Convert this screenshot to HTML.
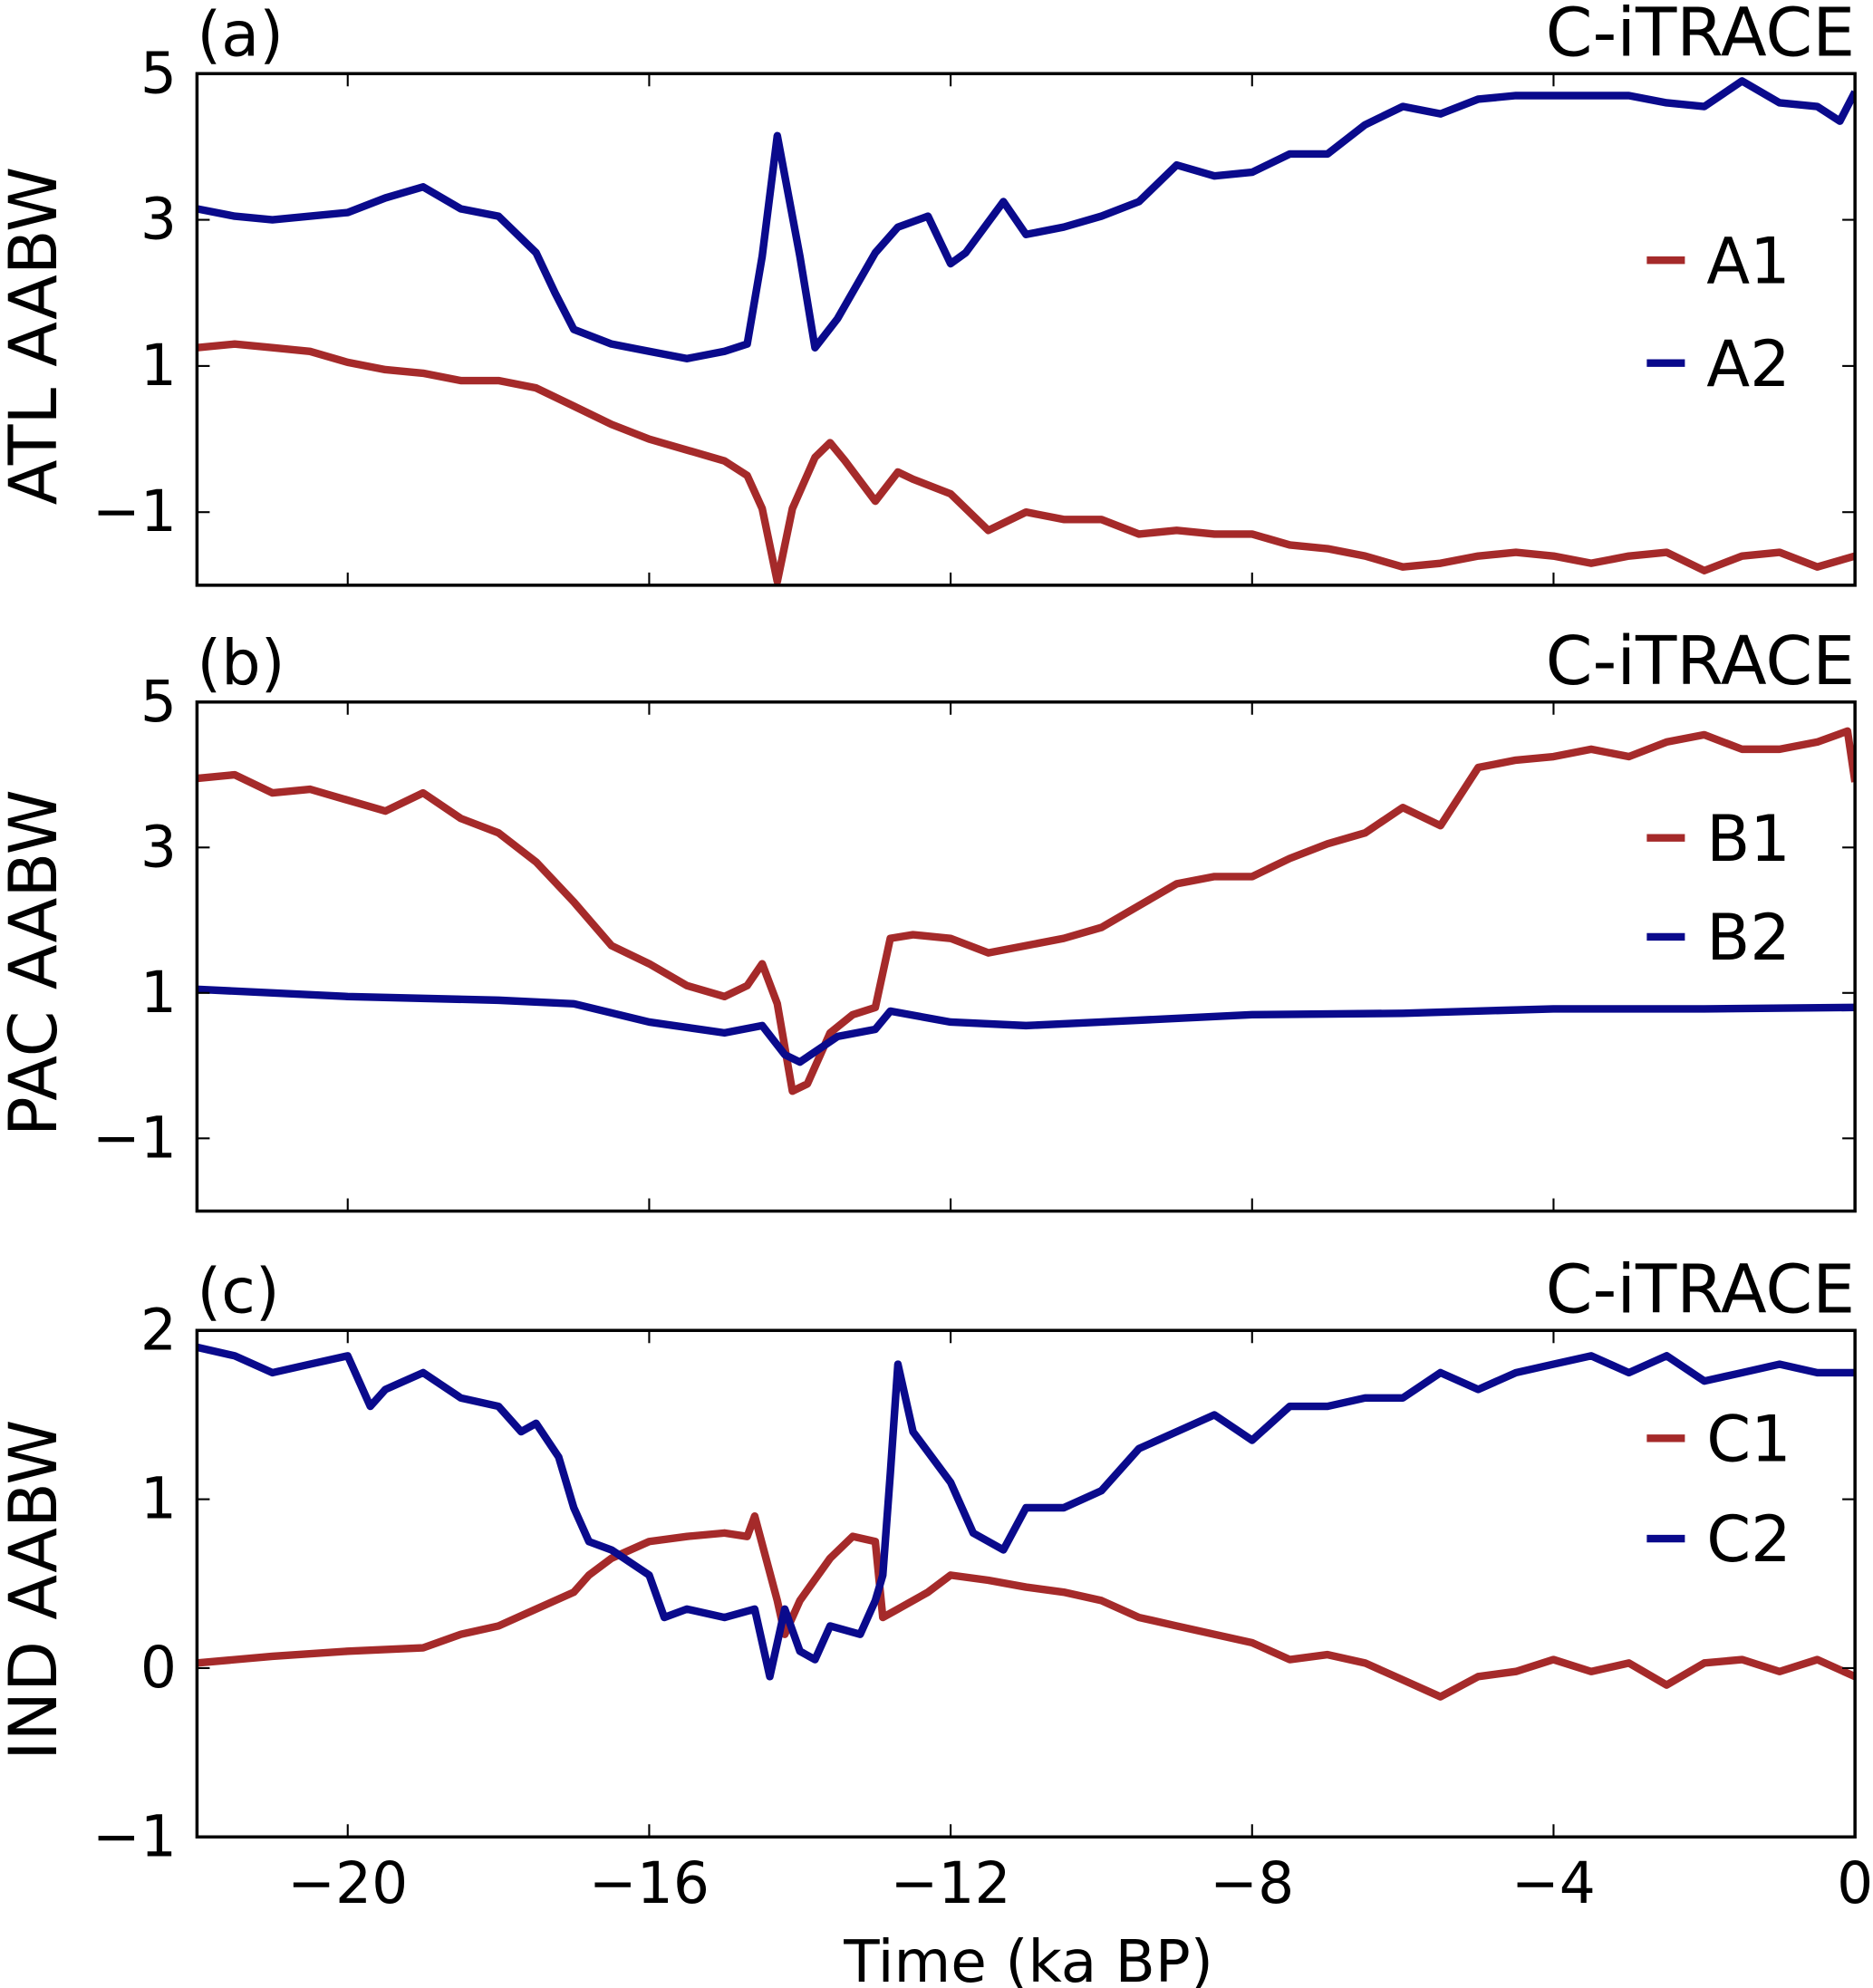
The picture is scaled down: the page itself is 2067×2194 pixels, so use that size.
<!DOCTYPE html>
<html><head><meta charset="utf-8"><style>
html,body{margin:0;padding:0;background:#fff}
svg{display:block}
text{font-family:"DejaVu Sans","Liberation Sans",sans-serif;fill:#000}
</style></head><body>
<svg id="chart" width="2067" height="2194" viewBox="0 0 1475 1566" xmlns="http://www.w3.org/2000/svg"></svg>
<script>
// ---- data ----
const tA2=[-22,-21.5,-21,-20.5,-20,-19.5,-19,-18.5,-18,-17.5,-17.25,-17,-16.5,-16,-15.5,-15,-14.7,-14.5,-14.3,-14.0,-13.8,-13.5,-13,-12.7,-12.3,-12,-11.8,-11.3,-11.0,-10.5,-10,-9.5,-9,-8.5,-8,-7.5,-7,-6.5,-6,-5.5,-5,-4.5,-4,-3.5,-3,-2.5,-2,-1.5,-1,-0.5,-0.2,0];
const vA2=[3.15,3.05,3.0,3.05,3.1,3.3,3.45,3.15,3.05,2.55,2.0,1.5,1.3,1.2,1.1,1.2,1.3,2.5,4.15,2.5,1.25,1.65,2.55,2.9,3.05,2.4,2.55,3.25,2.8,2.9,3.05,3.25,3.75,3.6,3.65,3.9,3.9,4.3,4.55,4.45,4.65,4.7,4.7,4.7,4.7,4.6,4.55,4.9,4.6,4.55,4.35,4.75];
const tA1=[-22,-21.5,-21,-20.5,-20,-19.5,-19,-18.5,-18,-17.5,-17,-16.5,-16,-15.5,-15,-14.7,-14.5,-14.3,-14.1,-13.8,-13.6,-13.4,-13,-12.7,-12.5,-12,-11.5,-11,-10.5,-10,-9.5,-9,-8.5,-8,-7.5,-7,-6.5,-6,-5.5,-5,-4.5,-4,-3.5,-3,-2.5,-2,-1.5,-1,-0.5,0];
const vA1=[1.25,1.3,1.25,1.2,1.05,0.95,0.9,0.8,0.8,0.7,0.45,0.2,0.0,-0.15,-0.3,-0.5,-0.95,-1.95,-0.95,-0.25,-0.05,-0.3,-0.85,-0.45,-0.55,-0.75,-1.25,-1.0,-1.1,-1.1,-1.3,-1.25,-1.3,-1.3,-1.45,-1.5,-1.6,-1.75,-1.7,-1.6,-1.55,-1.6,-1.7,-1.6,-1.55,-1.8,-1.6,-1.55,-1.75,-1.6];
const tB1=[-22,-21.5,-21,-20.5,-20,-19.5,-19,-18.5,-18,-17.5,-17,-16.5,-16,-15.5,-15,-14.7,-14.5,-14.3,-14.1,-13.9,-13.6,-13.3,-13,-12.8,-12.5,-12,-11.5,-11,-10.5,-10,-9.5,-9,-8.5,-8,-7.5,-7,-6.5,-6,-5.5,-5,-4.5,-4,-3.5,-3,-2.5,-2,-1.5,-1,-0.5,-0.1,0];
const vB1=[3.95,4.0,3.75,3.8,3.65,3.5,3.75,3.4,3.2,2.8,2.25,1.65,1.4,1.1,0.95,1.1,1.4,0.85,-0.35,-0.25,0.45,0.7,0.8,1.75,1.8,1.75,1.55,1.65,1.75,1.9,2.2,2.5,2.6,2.6,2.85,3.05,3.2,3.55,3.3,4.1,4.2,4.25,4.35,4.25,4.45,4.55,4.35,4.35,4.45,4.6,3.9];
const tB2=[-22,-20,-18,-17,-16,-15,-14.5,-14.2,-14,-13.5,-13,-12.8,-12,-11,-10,-8,-6,-4,-2,0];
const vB2=[1.05,0.95,0.9,0.85,0.6,0.45,0.55,0.15,0.05,0.4,0.5,0.75,0.6,0.55,0.6,0.7,0.72,0.78,0.78,0.8];
const tC2=[-22,-21.5,-21,-20.5,-20,-19.7,-19.5,-19,-18.5,-18,-17.7,-17.5,-17.2,-17,-16.8,-16.5,-16,-15.8,-15.5,-15,-14.6,-14.4,-14.2,-14,-13.8,-13.6,-13.2,-13,-12.9,-12.8,-12.7,-12.5,-12,-11.7,-11.3,-11,-10.5,-10,-9.5,-9,-8.5,-8,-7.5,-7,-6.5,-6,-5.5,-5,-4.5,-4,-3.5,-3,-2.5,-2,-1.5,-1,-0.5,0];
const vC2=[1.9,1.85,1.75,1.8,1.85,1.55,1.65,1.75,1.6,1.55,1.4,1.45,1.25,0.95,0.75,0.7,0.55,0.3,0.35,0.3,0.35,-0.05,0.35,0.1,0.05,0.25,0.2,0.4,0.55,1.15,1.8,1.4,1.1,0.8,0.7,0.95,0.95,1.05,1.3,1.4,1.5,1.35,1.55,1.55,1.6,1.6,1.75,1.65,1.75,1.8,1.85,1.75,1.85,1.7,1.75,1.8,1.75,1.75];
const tC1=[-22,-21,-20,-19,-18.5,-18,-17.5,-17,-16.8,-16.5,-16,-15.5,-15,-14.7,-14.6,-14.3,-14.2,-14,-13.6,-13.3,-13,-12.9,-12.7,-12.3,-12,-11.5,-11,-10.5,-10,-9.5,-9,-8.5,-8,-7.5,-7,-6.5,-6,-5.5,-5,-4.5,-4,-3.5,-3,-2.5,-2,-1.5,-1,-0.5,0];
const vC1=[0.03,0.07,0.1,0.12,0.2,0.25,0.35,0.45,0.55,0.65,0.75,0.78,0.8,0.78,0.9,0.4,0.2,0.4,0.65,0.78,0.75,0.3,0.35,0.45,0.55,0.52,0.48,0.45,0.4,0.3,0.25,0.2,0.15,0.05,0.08,0.03,-0.07,-0.17,-0.05,-0.02,0.05,-0.02,0.03,-0.1,0.03,0.05,-0.02,0.05,-0.05];
const xTicks=[-20,-16,-12,-8,-4,0];
const yTicksAB=[5,3,1,-1];
const yTicksC=[2,1,0,-1];
const RED="#a52a2a", BLUE="#0a0a8c";
// ---- layout ----
const svg=document.getElementById('chart');
const NS="http://www.w3.org/2000/svg";
const X0=155,X1=1461;
const xs=t=>X0+(t+22)/22*(X1-X0);
function el(tag,attrs,parent){const e=document.createElementNS(NS,tag);for(const k in attrs)e.setAttribute(k,attrs[k]);(parent||svg).appendChild(e);return e;}
function fmt(v){return v<0?'\u2212'+Math.abs(v):String(v);}
const panels=[
 {id:'a',top:58,bot:461,ymin:-2,ymax:5,yt:yTicksAB,ylab:'ATL AABW',series:[[tA1,vA1,RED,'A1'],[tA2,vA2,BLUE,'A2']],leg:[205,286]},
 {id:'b',top:553,bot:954,ymin:-2,ymax:5,yt:yTicksAB,ylab:'PAC AABW',series:[[tB1,vB1,RED,'B1'],[tB2,vB2,BLUE,'B2']],leg:[660,738]},
 {id:'c',top:1048,bot:1447,ymin:-1,ymax:2,yt:yTicksC,ylab:'IND AABW',series:[[tC1,vC1,RED,'C1'],[tC2,vC2,BLUE,'C2']],leg:[1133,1212]}
];
panels.forEach((p,pi)=>{
  const g=el('g',{});
  
  
  const ys=v=>p.bot-(v-p.ymin)/(p.ymax-p.ymin)*(p.bot-p.top);
  const cp=el('clipPath',{id:'cp'+p.id},g);
  el('rect',{x:X0,y:p.top,width:X1-X0,height:p.bot-p.top},cp);
  p.series.forEach(s=>{
    const d=s[0].map((t,i)=>(i?'L':'M')+xs(t).toFixed(1)+','+ys(s[1][i]).toFixed(1)).join('');
    const path=el('path',{d:d,fill:'none',stroke:s[2],'stroke-width':6,'stroke-linejoin':'round','clip-path':'url(#cp'+p.id+')'},g);
    
    
  });
  const fr=el('rect',{x:X0,y:p.top,width:X1-X0,height:p.bot-p.top,fill:'none',stroke:'#000','stroke-width':2.5},g);
  
  
  xTicks.forEach(t=>{
    if(t===0)return;
    el('line',{x1:xs(t),x2:xs(t),y1:p.bot,y2:p.bot-10,stroke:'#000','stroke-width':1.5},g);
    el('line',{x1:xs(t),x2:xs(t),y1:p.top,y2:p.top+10,stroke:'#000','stroke-width':1.5},g);
  });
  p.yt.forEach(v=>{
    const y=ys(v);
    el('line',{x1:X0,x2:X0+10,y1:y,y2:y,stroke:'#000','stroke-width':1.5},g);
    el('line',{x1:X1,x2:X1-10,y1:y,y2:y,stroke:'#000','stroke-width':1.5},g);
    const tx=el('text',{x:X0-16,y:y+15,'text-anchor':'end','font-size':45},g);
    tx.textContent=fmt(v);
    
    
  });
  const yl=el('text',{x:0,y:0,'text-anchor':'middle','font-size':52,transform:'translate(44,'+((p.top+p.bot)/2+5)+') rotate(-90)'},g);
  yl.textContent=p.ylab;
  
  
  const pl=el('text',{x:155,y:p.top-14,'font-size':49},g);
  pl.textContent='('+p.id+')';
  
  
  const mt=el('text',{x:X1,y:p.top-14,'text-anchor':'end','font-size':53},g);
  mt.textContent='C-iTRACE';
  
  
  p.series.forEach((s,i)=>{
    const lg=el('g',{},g);
    
    
    el('line',{x1:1297,x2:1327,y1:p.leg[i],y2:p.leg[i],stroke:s[2],'stroke-width':6},lg);
    const lt=el('text',{x:1344,y:p.leg[i]+18,'font-size':50},lg);
    lt.textContent=s[3];
  });
  if(pi===2){
    xTicks.forEach(t=>{
      const tx=el('text',{x:xs(t),y:p.bot+52,'text-anchor':'middle','font-size':45},g);
      tx.textContent=fmt(t);
      
      
    });
    const xt=el('text',{x:(X0+X1)/2+2,y:1561,'text-anchor':'middle','font-size':46},g);
    xt.textContent='Time (ka BP)';
    
    
  }
});
</script>
</body></html>
